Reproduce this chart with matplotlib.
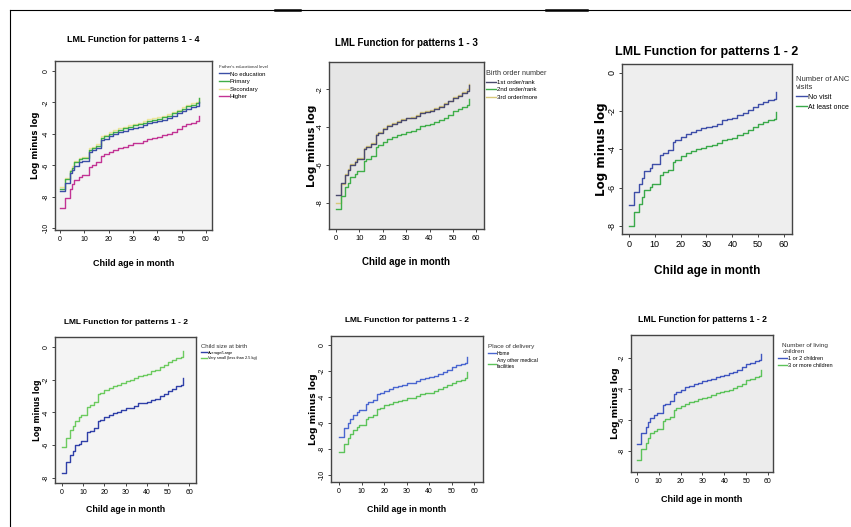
import matplotlib
matplotlib.use("Agg")
import matplotlib.pyplot as plt
from matplotlib.lines import Line2D
from matplotlib import font_manager

# use a narrow face when one is installed, otherwise plain Liberation Sans
try:
    font_manager.findfont('Liberation Sans Narrow', fallback_to_default=False)
    plt.rcParams['font.family'] = ['Liberation Sans Narrow', 'DejaVu Sans']
except ValueError:
    plt.rcParams['font.family'] = ['Liberation Sans', 'DejaVu Sans']

W, H = 851, 527

# event months (step points) shared by every curve
months = [0, 2, 4, 5, 6, 8, 9, 12, 13, 15, 17, 18, 20, 22, 24, 26, 28, 30,
          32, 34, 36, 38, 40, 42, 44, 46, 48, 50, 52, 54, 56, 57]

# panel 1: father's educational level
father_none = [-7.65, -7.1, -6.5, -6.3, -6.05, -5.8, -5.75, -5.15, -5.05, -4.9, -4.4, -4.3, -4.15, -4.0, -3.9, -3.8,
               -3.7, -3.6, -3.55, -3.45, -3.3, -3.25, -3.2, -3.1, -3.0, -2.85, -2.7, -2.55, -2.4, -2.3, -2.2, -1.95]
father_primary = [-7.5, -6.85, -6.35, -6.15, -5.8, -5.6, -5.55, -5.0, -4.9, -4.75, -4.25, -4.15, -4.0, -3.85, -3.75, -3.65,
                  -3.55, -3.45, -3.4, -3.3, -3.15, -3.1, -3.05, -2.95, -2.85, -2.7, -2.55, -2.4, -2.25, -2.15, -2.05, -1.75]
father_secondary = [-7.4, -6.8, -6.3, -6.05, -5.7, -5.5, -5.45, -4.9, -4.8, -4.65, -4.15, -4.05, -3.9, -3.75, -3.65, -3.55,
                    -3.45, -3.35, -3.3, -3.2, -3.05, -3.0, -2.95, -2.85, -2.75, -2.6, -2.45, -2.3, -2.15, -2.05, -1.95, -1.7]
father_higher = [-8.7, -8.05, -7.5, -7.2, -6.9, -6.75, -6.6, -6.1, -6.0, -5.8, -5.4, -5.3, -5.15, -5.0, -4.9, -4.8,
                 -4.7, -4.6, -4.55, -4.45, -4.3, -4.25, -4.2, -4.1, -4.0, -3.85, -3.7, -3.5, -3.4, -3.3, -3.2, -2.85]

# panel 2: birth order number
order_1st = [-7.6, -6.95, -6.55, -6.3, -6.0, -5.85, -5.7, -5.15, -5.05, -4.9, -4.4, -4.3, -4.1, -3.95, -3.85, -3.75,
             -3.65, -3.55, -3.5, -3.4, -3.25, -3.2, -3.15, -3.05, -2.95, -2.8, -2.65, -2.45, -2.35, -2.2, -2.1, -1.8]
order_2nd = [-8.35, -7.65, -7.2, -6.95, -6.65, -6.5, -6.35, -5.8, -5.7, -5.55, -5.05, -4.95, -4.8, -4.65, -4.55, -4.45,
             -4.35, -4.25, -4.2, -4.1, -3.95, -3.9, -3.85, -3.75, -3.65, -3.5, -3.35, -3.15, -3.05, -2.95, -2.85, -2.5]
order_3rd = [-8.0, -7.0, -6.5, -6.25, -5.95, -5.8, -5.65, -5.1, -5.0, -4.85, -4.35, -4.25, -4.05, -3.9, -3.8, -3.7,
             -3.6, -3.5, -3.45, -3.35, -3.2, -3.15, -3.1, -3.0, -2.9, -2.75, -2.6, -2.4, -2.3, -2.15, -2.0, -1.7]

# panel 3: number of ANC visits
anc_none = [-6.9, -6.2, -5.8, -5.5, -5.1, -4.95, -4.75, -4.3, -4.2, -4.05, -3.6, -3.5, -3.35, -3.2, -3.1, -3.0,
            -2.9, -2.8, -2.75, -2.65, -2.45, -2.4, -2.35, -2.2, -2.1, -1.95, -1.8, -1.6, -1.5, -1.4, -1.35, -1.0]
anc_once = [-8.0, -7.25, -6.85, -6.5, -6.1, -5.95, -5.8, -5.35, -5.2, -5.05, -4.65, -4.55, -4.35, -4.2, -4.1, -4.0,
            -3.9, -3.8, -3.75, -3.65, -3.5, -3.45, -3.4, -3.25, -3.15, -3.0, -2.85, -2.65, -2.55, -2.45, -2.4, -2.05]

# panel 4: child size at birth
size_avg = [-7.7, -7.0, -6.6, -6.35, -6.0, -5.9, -5.75, -5.2, -5.1, -4.95, -4.5, -4.45, -4.3, -4.15, -4.05, -3.95,
            -3.85, -3.75, -3.7, -3.6, -3.45, -3.4, -3.35, -3.25, -3.15, -3.0, -2.85, -2.7, -2.55, -2.4, -2.3, -1.9]
size_small = [-6.1, -5.55, -5.05, -4.8, -4.5, -4.3, -4.15, -3.65, -3.55, -3.35, -2.9, -2.8, -2.65, -2.5, -2.4, -2.3,
              -2.2, -2.1, -2.0, -1.9, -1.75, -1.7, -1.65, -1.5, -1.4, -1.25, -1.1, -0.95, -0.8, -0.7, -0.6, -0.25]

# panel 5: place of delivery
deliv_home = [-7.05, -6.4, -6.0, -5.7, -5.35, -5.15, -5.0, -4.5, -4.4, -4.2, -3.8, -3.7, -3.5, -3.35, -3.25, -3.15,
              -3.05, -2.95, -2.9, -2.8, -2.6, -2.55, -2.45, -2.35, -2.2, -2.05, -1.9, -1.7, -1.55, -1.45, -1.35, -0.9]
deliv_other = [-8.25, -7.6, -7.15, -6.85, -6.5, -6.3, -6.15, -5.7, -5.55, -5.4, -4.95, -4.85, -4.65, -4.5, -4.4, -4.3,
               -4.2, -4.1, -4.05, -3.95, -3.8, -3.7, -3.65, -3.55, -3.4, -3.25, -3.1, -2.9, -2.75, -2.65, -2.55, -2.1]

# panel 6: number of living children
kids_few = [-7.55, -6.85, -6.45, -6.15, -5.85, -5.7, -5.55, -5.05, -4.95, -4.75, -4.3, -4.2, -4.05, -3.9, -3.8, -3.7,
            -3.6, -3.5, -3.45, -3.35, -3.2, -3.15, -3.1, -3.0, -2.9, -2.75, -2.6, -2.4, -2.3, -2.2, -2.1, -1.75]
kids_many = [-8.55, -7.85, -7.45, -7.15, -6.85, -6.7, -6.55, -6.05, -5.95, -5.8, -5.35, -5.25, -5.1, -4.95, -4.85, -4.75,
             -4.65, -4.55, -4.5, -4.4, -4.25, -4.2, -4.15, -4.05, -3.95, -3.8, -3.65, -3.45, -3.35, -3.25, -3.15, -2.75]

BLUE = '#3b4fa6'
GREEN = '#3fae49'
YELLOW = '#ece59a'
MAGENTA = '#c23394'

panels = [
    dict(box=(55, 61, 212, 230), xlim=(-2, 62.5), ylim=(-10.1, 0.63), yticks=[0, -2, -4, -6, -8, -10],
         bg='#f3f3f3', title='LML Function for patterns 1 - 4', tsize=6.5, title_y=39,
         xlab_y=263, xsize=6.5, ylab_x=36, ysize=6.1, ticksize=5,
         series=[(father_none, BLUE, 'No education'), (father_primary, GREEN, 'Primary'),
                 (father_secondary, YELLOW, 'Secondary'), (father_higher, MAGENTA, 'Higher')],
         leg_title="Father's educational level", leg_pos=(219, 65), leg_size=4.3, leg_tsize=3.2, leg_align='left'),
    dict(box=(329, 62, 484, 229), xlim=(-3, 63.3), ylim=(-9.4, -0.56), yticks=[-2, -4, -6, -8],
         bg='#e6e6e6', title='LML Function for patterns 1 - 3', tsize=7, title_y=43,
         xlab_y=262, xsize=7, ylab_x=312, ysize=7.5, ticksize=5.5,
         series=[(order_1st, '#4a4a6e', '1st order/rank'), (order_2nd, GREEN, '2nd order/rank'),
                 (order_3rd, '#d8c878', '3rd order/more')],
         leg_title='Birth order number', leg_pos=(486, 70), leg_size=4.4, leg_tsize=5.2, leg_align='left'),
    dict(box=(622, 64, 792, 234), xlim=(-2.7, 63.1), ylim=(-8.42, 0.47), yticks=[0, -2, -4, -6, -8],
         bg='#eeeeee', title='LML Function for patterns 1 - 2', tsize=9, title_y=52,
         xlab_y=271, xsize=8.5, ylab_x=601, ysize=8.6, ticksize=6.5,
         series=[(anc_none, '#3e4ea8', 'No visit'), (anc_once, '#3aa94a', 'At least once')],
         leg_title='Number of ANC\nvisits', leg_pos=(796, 76), leg_size=5.0, leg_tsize=5.5, leg_align='center'),
    dict(box=(55, 337, 196, 483), xlim=(-3.3, 63.2), ylim=(-8.3, 0.6), yticks=[0, -2, -4, -6, -8],
         bg='#f4f4f4', title='LML Function for patterns 1 - 2', tsize=6, title_y=322,
         xlab_y=510, xsize=6.3, ylab_x=37, ysize=5.6, ticksize=5,
         series=[(size_avg, '#2f3fa8', 'Average/Large'), (size_small, '#6ccb5f', 'Very small (less than 2.5 kg)')],
         leg_title='Child size at birth', leg_pos=(201, 344), leg_size=2.8, leg_tsize=4.3, leg_align='left'),
    dict(box=(331, 336, 483, 482), xlim=(-3.6, 64), ylim=(-10.54, 0.7), yticks=[0, -2, -4, -6, -8, -10],
         bg='#efefef', title='LML Function for patterns 1 - 2', tsize=6, title_y=321,
         xlab_y=510, xsize=6.3, ylab_x=313, ysize=6.6, ticksize=5,
         series=[(deliv_home, '#4a66d0', 'Home'), (deliv_other, '#5cc35a', 'Any other medical\nfacilities')],
         leg_title='Place of delivery', leg_pos=(488, 344), leg_size=3.6, leg_tsize=4.6, leg_align='left'),
    dict(box=(631, 335, 773, 472), xlim=(-2.7, 62.3), ylim=(-9.35, -0.52), yticks=[-2, -4, -6, -8],
         bg='#ececec', title='LML Function for patterns 1 - 2', tsize=6.3, title_y=320,
         xlab_y=500, xsize=6.5, ylab_x=615, ysize=6.6, ticksize=5,
         series=[(kids_few, '#3f55c0', '1 or 2 children'), (kids_many, '#5cc35a', '3 or more children')],
         leg_title='Number of living\nchildren', leg_pos=(778, 343), leg_size=4.0, leg_tsize=4.6, leg_align='center'),
]

fig = plt.figure(figsize=(W / 100, H / 100), dpi=100)
fig.patch.set_facecolor('white')


def fx(x):
    return x / W


def fy(y):
    return 1 - y / H


for p in panels:
    x0, y0, x1, y1 = p['box']
    ax = fig.add_axes([fx(x0), fy(y1), (x1 - x0) / W, (y1 - y0) / H])
    ax.set_facecolor(p['bg'])
    handles = []
    for i, (vals, col, lab) in enumerate(p['series']):
        pale = col in (YELLOW, '#d8c878')
        ax.step(months, vals, where='post', color=col, lw=1.0, zorder=1.5 if pale else 3 - i * 0.1)
        handles.append(Line2D([0], [0], color=col, lw=1.0))
    ax.set_xlim(*p['xlim'])
    ax.set_ylim(*p['ylim'])
    ax.set_xticks(range(0, 61, 10))
    ax.set_yticks(p['yticks'])
    ax.set_yticklabels([str(v) for v in p['yticks']], rotation=90, va='center')
    ax.tick_params(labelsize=p['ticksize'], length=2.5, width=0.7, color='#444444', pad=1.5)
    for s in ax.spines.values():
        s.set_color('#444444')
        s.set_linewidth(1.0)
    cx = (x0 + x1) / 2
    fig.text(fx(cx), fy(p['title_y']), p['title'], ha='center', va='center',
             fontsize=p['tsize'], fontweight='bold')
    fig.text(fx(cx), fy(p['xlab_y']), 'Child age in month', ha='center', va='center',
             fontsize=p['xsize'], fontweight='bold')
    fig.text(fx(p['ylab_x']), fy((y0 + y1) / 2), 'Log minus log', ha='center', va='center',
             rotation=90, fontsize=p['ysize'], fontweight='bold', family='DejaVu Sans')
    lx, ly = p['leg_pos']
    leg = fig.legend(handles, [s[2] for s in p['series']], title=p['leg_title'],
                     loc='upper left', bbox_to_anchor=(fx(lx), fy(ly)), frameon=False,
                     fontsize=p['leg_size'], title_fontsize=p['leg_tsize'],
                     handlelength=1.6, handletextpad=0.2, labelspacing=0.4,
                     borderpad=0, borderaxespad=0, alignment=p['leg_align'])
    leg.get_title().set_color('#333333')

# page frame lines
fig.add_artist(Line2D([fx(10), 1], [fy(10), fy(10)], color='black', lw=0.8))
fig.add_artist(Line2D([fx(10), fx(10)], [fy(10), 0], color='black', lw=0.8))
fig.add_artist(Line2D([fx(275), fx(300)], [fy(10), fy(10)], color='black', lw=1.8))
fig.add_artist(Line2D([fx(546), fx(587)], [fy(10), fy(10)], color='black', lw=1.8))

fig.savefig('out.png', dpi=100)
